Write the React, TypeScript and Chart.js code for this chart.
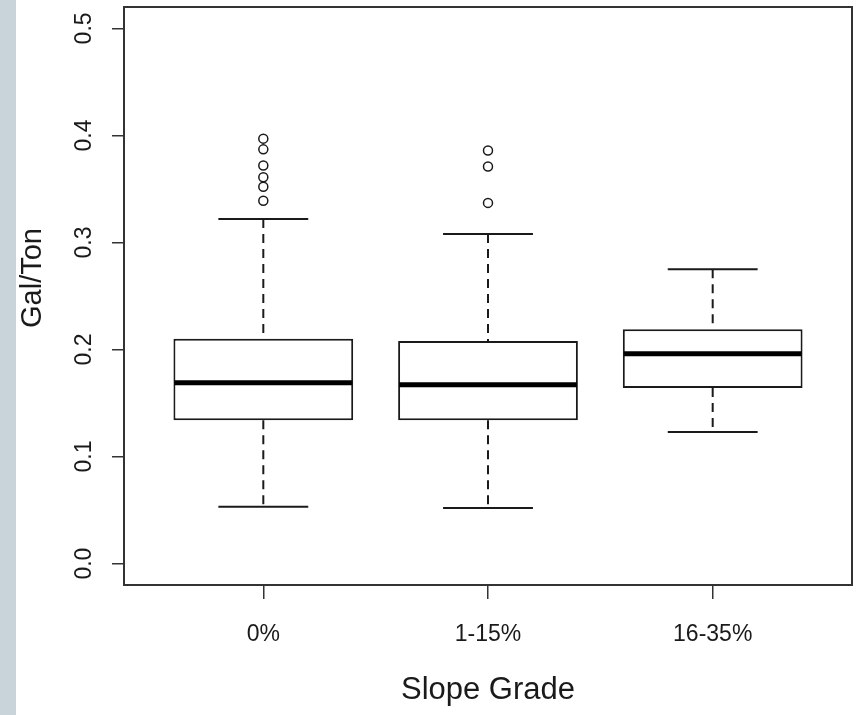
import React, { useEffect, useRef } from "react";
import { Chart, registerables } from "chart.js";

Chart.register(...registerables);

const categories = ["0%", "1-15%", "16-35%"];
const lowerWhisker = [0.053, 0.052, 0.123];
const q1 = [0.134, 0.134, 0.164];
const medians = [0.169, 0.167, 0.196];
const q3 = [0.21, 0.208, 0.219];
const upperWhisker = [0.322, 0.308, 0.275];
const outliers0 = [0.397, 0.387, 0.372, 0.361, 0.352, 0.339];
const outliers1 = [0.386, 0.371, 0.337];
const outliers2: number[] = [];
const yTicks = [0, 0.1, 0.2, 0.3, 0.4, 0.5];
const xTitle = "Slope Grade";
const yTitle = "Gal/Ton";

const FONT = '"Liberation Sans", Arial, sans-serif';
const INK = "#1a1a1a";

const boxPlugin = {
  id: "boxParts",
  afterDatasetsDraw(chart: any) {
    const { ctx, chartArea } = chart;
    const xs = chart.scales.x;
    const ys = chart.scales.y;
    const meta = chart.getDatasetMeta(0);
    ctx.save();
    categories.forEach((_, i) => {
      const x = xs.getPixelForValue(i + 1);
      const bar = meta.data[i];
      const half = bar ? bar.width / 2 : 90;
      ctx.strokeStyle = INK;
      ctx.lineWidth = 2;
      ctx.setLineDash([9, 6]);
      ctx.beginPath();
      ctx.moveTo(x, ys.getPixelForValue(upperWhisker[i]));
      ctx.lineTo(x, ys.getPixelForValue(q3[i]));
      ctx.moveTo(x, ys.getPixelForValue(q1[i]));
      ctx.lineTo(x, ys.getPixelForValue(lowerWhisker[i]));
      ctx.stroke();
      ctx.setLineDash([]);
      ctx.beginPath();
      ctx.moveTo(x - half / 2, ys.getPixelForValue(upperWhisker[i]));
      ctx.lineTo(x + half / 2, ys.getPixelForValue(upperWhisker[i]));
      ctx.moveTo(x - half / 2, ys.getPixelForValue(lowerWhisker[i]));
      ctx.lineTo(x + half / 2, ys.getPixelForValue(lowerWhisker[i]));
      ctx.stroke();
      ctx.strokeStyle = "#000";
      ctx.lineWidth = 5;
      ctx.beginPath();
      ctx.moveTo(x - half + 1, ys.getPixelForValue(medians[i]));
      ctx.lineTo(x + half - 1, ys.getPixelForValue(medians[i]));
      ctx.stroke();
    });
    ctx.strokeStyle = "#333";
    ctx.lineWidth = 2;
    ctx.strokeRect(chartArea.left, chartArea.top, chartArea.right - chartArea.left, chartArea.bottom - chartArea.top);
    ctx.fillStyle = INK;
    ctx.font = `23px ${FONT}`;
    ctx.textAlign = "center";
    ctx.textBaseline = "middle";
    yTicks.forEach((v) => {
      const y = ys.getPixelForValue(v);
      ctx.save();
      ctx.translate(85, y);
      ctx.rotate(-Math.PI / 2);
      ctx.fillText(v.toFixed(1), 0, 0);
      ctx.restore();
    });
    ctx.font = `29px ${FONT}`;
    ctx.save();
    ctx.translate(33, 278);
    ctx.rotate(-Math.PI / 2);
    ctx.fillText(yTitle, 0, 0);
    ctx.restore();
    ctx.font = `31px ${FONT}`;
    ctx.textBaseline = "alphabetic";
    ctx.fillText(xTitle, (chartArea.left + chartArea.right) / 2, 699);
    ctx.restore();
  },
};

export default function App() {
  const ref = useRef<HTMLCanvasElement>(null);
  useEffect(() => {
    document.body.style.margin = "0";
    const outlierPoints = [
      ...outliers0.map((v) => ({ x: 1, y: v })),
      ...outliers1.map((v) => ({ x: 2, y: v })),
      ...outliers2.map((v) => ({ x: 3, y: v })),
    ];
    const chart = new Chart(ref.current!, {
      type: "bar",
      data: {
        datasets: [
          {
            type: "bar",
            data: categories.map((_, i) => ({ x: i + 1, y: [q1[i], q3[i]] })) as any,
            backgroundColor: "#ffffff",
            borderColor: INK,
            borderWidth: 2,
            borderSkipped: false,
            barPercentage: 0.8,
            categoryPercentage: 1,
          } as any,
          {
            type: "scatter",
            data: outlierPoints,
            pointStyle: "circle",
            pointRadius: 4.5,
            pointBorderWidth: 1.5,
            pointBorderColor: INK,
            pointBackgroundColor: "#ffffff",
          } as any,
        ],
      },
      options: {
        animation: false,
        responsive: true,
        maintainAspectRatio: false,
        layout: { padding: { top: 7, right: 3, left: 0, bottom: 0 } },
        plugins: { legend: { display: false }, tooltip: { enabled: false } },
        scales: {
          x: {
            type: "linear",
            min: 0.38,
            max: 3.62,
            offset: false,
            afterBuildTicks: (s: any) => {
              s.ticks = categories.map((_, i) => ({ value: i + 1 }));
            },
            afterFit: (s: any) => {
              s.height = 130;
            },
            grid: { offset: false, drawOnChartArea: false, drawTicks: true, tickLength: 14, color: "#333", lineWidth: 1.5 },
            border: { display: true, color: "#333", width: 2 },
            ticks: {
              autoSkip: false,
              maxRotation: 0,
              padding: 22,
              color: INK,
              font: { family: FONT, size: 23 },
              callback: (v: any) => categories[Math.round(v) - 1] ?? "",
            },
          },
          y: {
            type: "linear",
            min: -0.02,
            max: 0.52,
            afterBuildTicks: (s: any) => {
              s.ticks = yTicks.map((v) => ({ value: v }));
            },
            afterFit: (s: any) => {
              s.width = 124;
            },
            grid: { drawOnChartArea: false, drawTicks: true, tickLength: 12, color: "#333", lineWidth: 1.5 },
            border: { display: true, color: "#333", width: 2 },
            ticks: { display: false },
          },
        },
      },
      plugins: [boxPlugin],
    });
    return () => chart.destroy();
  }, []);
  return (
    <div style={{ position: "absolute", left: 0, top: 0, width: 858, height: 715, background: "#fff" }}>
      <div style={{ position: "absolute", left: 0, top: 0, width: 16, height: 715, background: "#c8d3da" }} />
      <div style={{ position: "absolute", left: 0, top: 0, width: 858, height: 715 }}>
        <canvas ref={ref} />
      </div>
    </div>
  );
}
